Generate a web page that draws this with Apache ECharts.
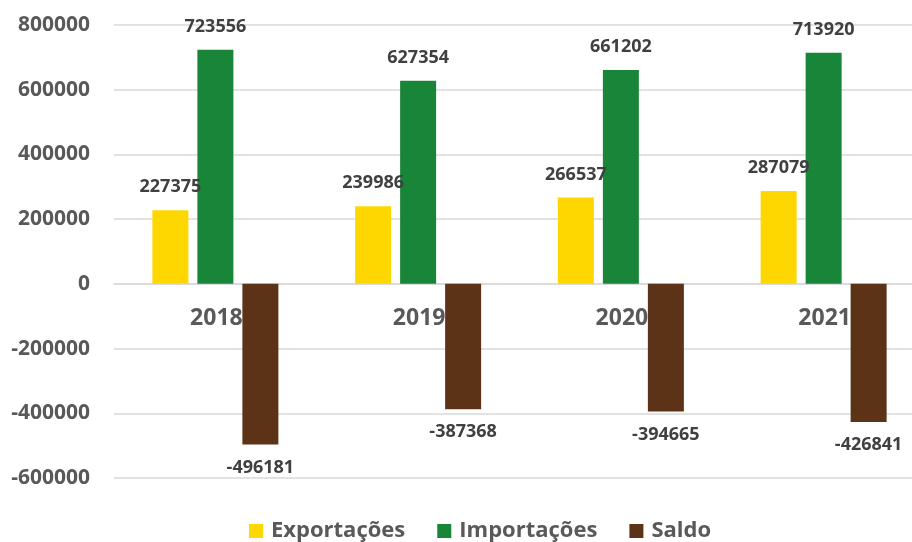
<!DOCTYPE html>
<html><head><meta charset="utf-8">
<script src="https://cdn.jsdelivr.net/npm/echarts@6/dist/echarts.min.js"></script>
<style>html,body{margin:0;padding:0;background:#fff}#c{width:912px;height:542px}</style>
</head><body><div id="c"></div>
<script>
const categories = ['2018', '2019', '2020', '2021'];
const exportacoes = [227375, 239986, 266537, 287079];
const importacoes = [723556, 627354, 661202, 713920];
const saldo = [-496181, -387368, -394665, -426841];

const FONT = 'Open Sans';
const chart = echarts.init(document.getElementById('c'));
const lbl = (pos, d) => ({
  show: true, position: pos, distance: d,
  color: '#404040', fontWeight: 'bold', fontSize: 18, fontFamily: FONT
});
chart.setOption({
  animation: false,
  grid: { left: 114, width: 811, top: 25, bottom: 64, containLabel: false, outerBoundsMode: 'none' },
  legend: {
    bottom: -5, left: 244,
    itemWidth: 14, itemHeight: 14, itemGap: 32,
    icon: 'rect',
    textStyle: { color: '#595959', fontWeight: 'bold', fontSize: 22, fontFamily: FONT, padding: [0, 0, 0, 3] },
    data: ['Exportações', 'Importações', 'Saldo']
  },
  xAxis: {
    type: 'category', data: categories,
    axisLine: { show: true, onZero: true, lineStyle: { color: '#d9d9d9', width: 1.5 } },
    axisTick: { show: false },
    axisLabel: { show: false }
  },
  yAxis: {
    type: 'value', min: -600000, max: 800000, interval: 200000,
    axisLine: { show: false }, axisTick: { show: false },
    splitLine: { lineStyle: { color: '#d9d9d9', width: 1.5 } },
    axisLabel: { color: '#595959', fontWeight: 'bold', fontSize: 21, fontFamily: FONT, margin: 24,
      formatter: v => String(v) }
  },
  series: [
    { type: 'custom', z: 1, silent: true, data: categories.map((c, i) => [i, 0]),
      renderItem: (params, api) => {
        const p = api.coord([api.value(0), 0]);
        return { type: 'text', style: { text: categories[api.value(0)], x: p[0] + 1, y: p[1] + 35,
          align: 'center', verticalAlign: 'middle', fill: '#595959',
          font: 'bold 23px "Open Sans"' } };
      } },
    { name: 'Exportações', type: 'bar', data: exportacoes, barWidth: 36, barGap: '25%',
      itemStyle: { color: '#FFD700' }, label: lbl('top', 14) },
    { name: 'Importações', type: 'bar', data: importacoes, barWidth: 36, barGap: '25%',
      itemStyle: { color: '#188538' }, label: lbl('top', 14) },
    { name: 'Saldo', type: 'bar', data: saldo, barWidth: 36, barGap: '25%',
      itemStyle: { color: '#5C3317' }, label: lbl('bottom', 14) }
  ]
});
</script></body></html>
